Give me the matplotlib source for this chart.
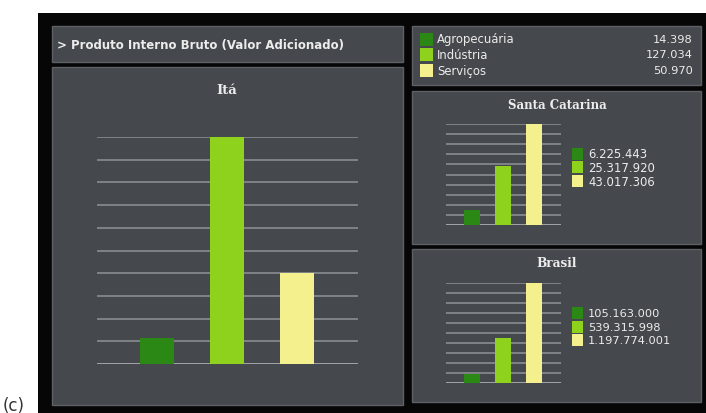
import matplotlib
matplotlib.use("Agg")
import matplotlib.pyplot as plt
from matplotlib.patches import Rectangle
import numpy as np

# Data
categories = ["Agropecuária", "Indústria", "Serviços"]
ita_values = [14398, 127034, 50970]
sc_values = [6225443, 25317920, 43017306]
br_values = [105163000, 539315998, 1197774001]
colors = ["#2c8814", "#8fd21d", "#f4f08e"]

W, H = 706, 414
PANEL = "#45484c"
EDGE = "#5d6064"
GRID = "#8a8d8f"
TXT = "#ececec"


def fmt(v):
    return f"{v:,}".replace(",", ".")


fig = plt.figure(figsize=(W / 100, H / 100), dpi=100)
fig.patch.set_facecolor("white")

bg = fig.add_axes([0, 0, 1, 1])
bg.set_xlim(0, W)
bg.set_ylim(H, 0)
bg.axis("off")

bg.text(3, 406, "(c)", fontsize=12, color="#333333", ha="left", va="center",
        family="DejaVu Sans")
bg.add_patch(Rectangle((38, 14), W - 38, H - 14, facecolor="#060606",
                       edgecolor="none", zorder=1))


def panel(x0, y0, x1, y1):
    bg.add_patch(Rectangle((x0, y0), x1 - x0, y1 - y0, facecolor=PANEL,
                           edgecolor=EDGE, linewidth=1, zorder=2))


panel(52, 27, 403, 63)
panel(52, 68, 403, 406)
panel(412, 27, 701, 86)
panel(412, 92, 701, 245)
panel(412, 250, 701, 403)

bg.text(57, 45.5, "> Produto Interno Bruto (Valor Adicionado)", fontsize=8.5,
        fontweight="bold", color=TXT, ha="left", va="center", zorder=3)

# Top-right legend with Itá values
rows = [40, 55.5, 71]
for cat, val, c, y in zip(categories, ita_values, colors, rows):
    bg.add_patch(Rectangle((420, y - 6.5), 13, 13, facecolor=c,
                           edgecolor="none", zorder=3))
    bg.text(437, y, cat, fontsize=8.4, color=TXT, ha="left", va="center", zorder=3)
    bg.text(693, y, fmt(val), fontsize=8.2, color=TXT, ha="right", va="center",
            zorder=3)


def bar_chart(values, box, centers_px, width_px, title, title_xy, title_size,
              legend=None):
    x0, y0, x1, y1 = box
    ax = fig.add_axes([x0 / W, (H - y1) / H, (x1 - x0) / W, (y1 - y0) / H])
    ax.patch.set_alpha(0)
    step = centers_px[1] - centers_px[0]
    left = -(centers_px[0] - x0) / step
    right = 2 + (x1 - centers_px[2]) / step
    vmax = max(values)
    ax.set_xlim(left, right)
    ax.set_ylim(0, vmax)
    ax.set_yticks(np.linspace(0, vmax, 11))
    ax.yaxis.grid(True, color=GRID, linewidth=1.2, zorder=0)
    ax.set_axisbelow(True)
    ax.bar(range(len(values)), values, width=width_px / step, color=colors,
           zorder=2)
    ax.tick_params(left=False, bottom=False, labelleft=False, labelbottom=False)
    for s in ax.spines.values():
        s.set_visible(False)
    ax.axhline(0, color="#a4a6a8", linewidth=2, zorder=1)
    bg.text(title_xy[0], title_xy[1], title, fontsize=title_size,
            fontweight="bold", family="DejaVu Serif", color=TXT, ha="center",
            va="center", zorder=3)
    if legend is not None:
        lx, ly, dy, fs = legend
        for i, (val, c) in enumerate(zip(values, colors)):
            y = ly + i * dy
            bg.add_patch(Rectangle((lx, y - 6), 11, 12, facecolor=c,
                                   edgecolor="none", zorder=3))
            bg.text(lx + 16, y, fmt(val), fontsize=fs, color=TXT, ha="left",
                    va="center", zorder=3)
    return ax


bar_chart(ita_values, (97, 138, 358, 365), [157, 227, 297], 34,
          "Itá", (227, 90), 9.5)
bar_chart(sc_values, (446, 125, 561, 226), [472, 503.5, 534], 16,
          "Santa Catarina", (557, 106), 8.5, legend=(572, 154.5, 13.8, 8.4))
bar_chart(br_values, (446, 284, 561, 384), [472, 503.5, 534], 16,
          "Brasil", (557, 264), 8.7, legend=(572, 314, 13.6, 8.2))

fig.savefig("out.png", dpi=100, facecolor=fig.get_facecolor())
